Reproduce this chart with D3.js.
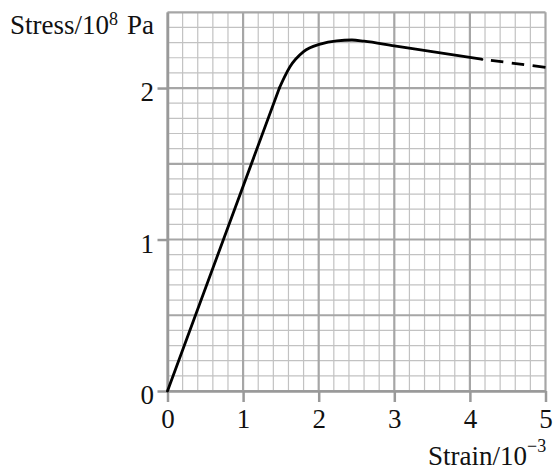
<!DOCTYPE html>
<html>
<head>
<meta charset="utf-8">
<script src="https://cdn.jsdelivr.net/npm/d3@7"></script>
<style>
  html, body { margin: 0; padding: 0; background: #fff; }
  svg { display: block; }
  text { font-family: "Liberation Serif", "Times New Roman", serif; fill: #111; }
</style>
</head>
<body>
<svg id="chart" width="558" height="473"></svg>
<script>
// Stress–strain curve of a metal specimen
// elastic (straight) region
const strainElastic = [0, 1.48];
const stressElastic = [0, 2.0];
// plastic region, measured
const strainPlastic = [1.48, 1.55, 1.62, 1.80, 2.02, 2.24, 2.44, 2.60, 3.00, 3.50, 4.16];
const stressPlastic = [2.0, 2.075, 2.14, 2.24, 2.29, 2.312, 2.317, 2.309, 2.278, 2.241, 2.19];
// extrapolated part beyond the last measurement
const strainDashed = [4.16, 5.0];
const stressDashed = [2.19, 2.137];

const xTickValues = [0, 1, 2, 3, 4, 5];
const yTickValues = [0, 1, 2];

const svg = d3.select("#chart");
const x = d3.scaleLinear().domain([0, 5]).range([167.5, 545.5]);
const y = d3.scaleLinear().domain([0, 2.5]).range([391, 12.3]);

const grid = svg.append("g");
// minor grid: 0.2 strain, 0.1 stress
const xMinor = x.ticks(25), yMinor = y.ticks(25);
const isMajorX = v => Math.abs(v - Math.round(v)) < 1e-6;
const isMajorY = v => Math.abs(v * 2 - Math.round(v * 2)) < 1e-6;

grid.selectAll(".vminor").data(xMinor.filter(v => !isMajorX(v))).join("line")
  .attr("x1", d => x(d)).attr("x2", d => x(d))
  .attr("y1", y(0)).attr("y2", y(2.5))
  .attr("stroke", "#c2c2c2").attr("stroke-width", 1.2);
grid.selectAll(".hminor").data(yMinor.filter(v => !isMajorY(v))).join("line")
  .attr("y1", d => y(d)).attr("y2", d => y(d))
  .attr("x1", x(0)).attr("x2", x(5))
  .attr("stroke", "#c2c2c2").attr("stroke-width", 1.2);
grid.selectAll(".vmajor").data(xMinor.filter(isMajorX)).join("line")
  .attr("x1", d => x(d)).attr("x2", d => x(d))
  .attr("y1", y(0)).attr("y2", y(2.5))
  .attr("stroke", "#a6a6a6").attr("stroke-width", 2.2);
grid.selectAll(".hmajor").data(yMinor.filter(isMajorY)).join("line")
  .attr("y1", d => y(d)).attr("y2", d => y(d))
  .attr("x1", x(0)).attr("x2", x(5))
  .attr("stroke", "#a6a6a6").attr("stroke-width", 2.2);

// axes
const fmt = d3.format("d");
const xAxis = svg.append("g").attr("transform", `translate(0,${y(0)})`)
  .call(d3.axisBottom(x).tickValues(xTickValues).tickFormat(fmt).tickSize(11).tickSizeOuter(0));
const yAxis = svg.append("g").attr("transform", `translate(${x(0)},0)`)
  .call(d3.axisLeft(y).tickValues(yTickValues).tickFormat(fmt).tickSize(10).tickSizeOuter(0));

[xAxis, yAxis].forEach(g => {
  g.select(".domain").attr("stroke", "#999").attr("stroke-width", 2.5);
  g.selectAll(".tick line").attr("stroke", "#999").attr("stroke-width", 2.5);
  g.selectAll(".tick text").attr("font-size", 27)
    .style("font-family", '"Liberation Serif", "Times New Roman", serif').attr("fill", "#111");
});
xAxis.selectAll(".tick text").attr("dy", null).attr("y", 37);
yAxis.selectAll(".tick text").attr("dy", null).attr("y", 12.5).attr("x", -13.5);

// curve
const lin = d3.line().x(d => x(d[0])).y(d => y(d[1]));
const smooth = d3.line().x(d => x(d[0])).y(d => y(d[1])).curve(d3.curveMonotoneX);
const elasticData = strainElastic.map((s, i) => [s, stressElastic[i]]);
const plasticData = strainPlastic.map((s, i) => [s, stressPlastic[i]]);
const dashedData = strainDashed.map((s, i) => [s, stressDashed[i]]);

svg.append("path").datum(elasticData).attr("d", lin)
  .attr("fill", "none").attr("stroke", "#000").attr("stroke-width", 2.8)
  .attr("stroke-linecap", "round");
svg.append("path").datum(plasticData).attr("d", smooth)
  .attr("fill", "none").attr("stroke", "#000").attr("stroke-width", 2.8)
  .attr("stroke-linejoin", "round").attr("stroke-linecap", "round");
svg.append("path").datum(dashedData).attr("d", lin)
  .attr("fill", "none").attr("stroke", "#000").attr("stroke-width", 2.8)
  .attr("stroke-dasharray", "0 9 12.5 8.5 12.5 8.5 13");

// axis titles
const yt = svg.append("text").attr("x", 10).attr("y", 34).attr("font-size", 27);
yt.append("tspan").text("Stress/10");
yt.append("tspan").attr("font-size", 18).attr("dy", -9).text("8");
yt.append("tspan").attr("dy", 9).attr("dx", 9).text("Pa");

const xt = svg.append("text").attr("x", 428).attr("y", 465).attr("font-size", 27);
xt.append("tspan").text("Strain/10");
xt.append("tspan").attr("font-size", 18).attr("dy", -13).text("\u22123");
</script>
</body>
</html>
